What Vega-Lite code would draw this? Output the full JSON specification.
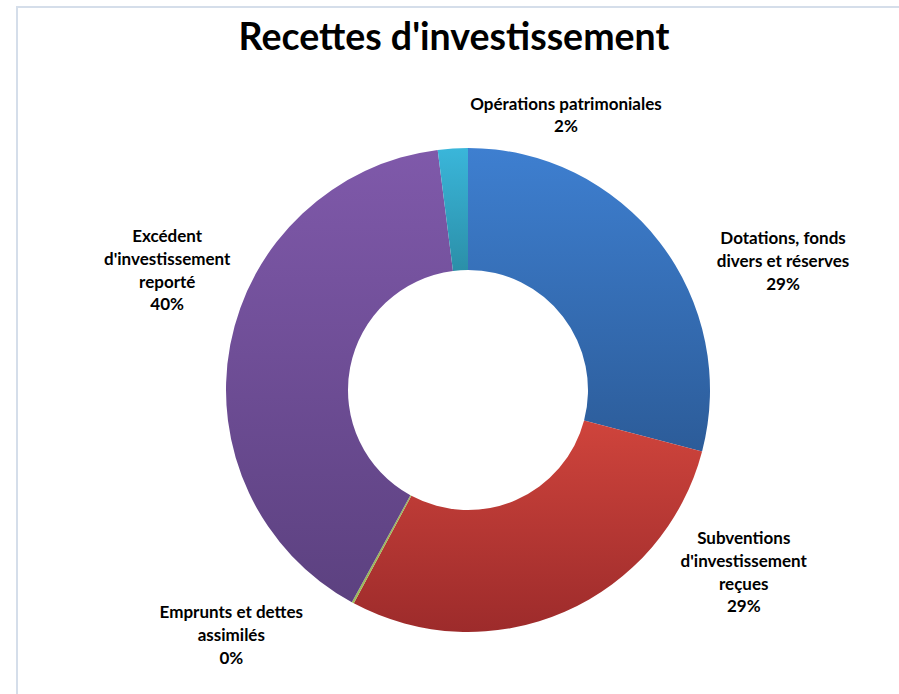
{
  "$schema": "https://vega.github.io/schema/vega-lite/v6.json",
  "width": 902,
  "height": 766,
  "autosize": {"type": "none"},
  "padding": {"left": 17, "top": 7, "right": 0, "bottom": 0},
  "background": "white",
  "config": {"view": {"stroke": null}},
  "title": {
    "text": "Recettes d'investissement",
    "font": "Lato",
    "fontSize": 37.5,
    "fontWeight": "bold",
    "color": "#000000",
    "orient": "none",
    "anchor": "middle",
    "align": "center",
    "baseline": "alphabetic",
    "dx": 437,
    "dy": 43
  },
  "data": {
    "values": [
      {"categorie": "Dotations, fonds divers et réserves", "etiquette": "Dotations, fonds\ndivers et réserves\n29%", "part": 29.1},
      {"categorie": "Subventions d'investissement reçues", "etiquette": "Subventions\nd'investissement\nreçues\n29%", "part": 28.75},
      {"categorie": "Emprunts et dettes assimilés", "etiquette": "Emprunts et dettes\nassimilés\n0%", "part": 0.15},
      {"categorie": "Excédent d'investissement reporté", "etiquette": "Excédent\nd'investissement\nreporté\n40%", "part": 40.05},
      {"categorie": "Opérations patrimoniales", "etiquette": "Opérations patrimoniales\n2%", "part": 2.0}
    ]
  },
  "transform": [{"window": [{"op": "row_number", "as": "rang"}]}],
  "layer": [
    {
      "transform": [{"aggregate": [{"op": "count", "as": "n"}]}],
      "mark": {"type": "rect", "fillOpacity": 0, "stroke": "#d5deea", "strokeWidth": 2},
      "encoding": {}
    },
    {
      "mark": {"type": "arc", "outerRadius": 242, "innerRadius": 120},
      "encoding": {
        "theta": {"field": "part", "type": "quantitative", "stack": true},
        "order": {"field": "rang", "type": "quantitative", "sort": "ascending"},
        "fill": {
          "condition": [
            {"test": "datum.categorie === 'Dotations, fonds divers et réserves'", "value": {"gradient": "linear", "x1": 0, "y1": 0, "x2": 0, "y2": 1, "stops": [{"offset": 0, "color": "#3e7fd0"}, {"offset": 1, "color": "#2c5c99"}]}},
            {"test": "datum.categorie === 'Subventions d\\'investissement reçues'", "value": {"gradient": "linear", "x1": 0, "y1": 0, "x2": 0, "y2": 1, "stops": [{"offset": 0, "color": "#cf443c"}, {"offset": 1, "color": "#9d2b2b"}]}},
            {"test": "datum.categorie === 'Emprunts et dettes assimilés'", "value": "#9bbb59"},
            {"test": "datum.categorie === 'Excédent d\\'investissement reporté'", "value": {"gradient": "linear", "x1": 0, "y1": 0, "x2": 0, "y2": 1, "stops": [{"offset": 0, "color": "#7f59aa"}, {"offset": 1, "color": "#5c4180"}]}}
          ],
          "value": {"gradient": "linear", "x1": 0, "y1": 0, "x2": 0, "y2": 1, "stops": [{"offset": 0, "color": "#3ab6da"}, {"offset": 1, "color": "#2b8fa8"}]}
        }
      }
    },
    {
      "transform": [{"stack": "part", "groupby": [], "sort": [{"field": "rang", "order": "ascending"}], "as": ["debut", "fin"]}],
      "mark": {"type": "text", "font": "Lato", "fontWeight": "bold", "fontSize": 17, "lineHeight": 22.7, "lineBreak": "\n", "align": "center", "baseline": "middle", "color": "#000000"},
      "encoding": {
        "text": {"field": "etiquette", "type": "nominal"},
        "theta": {
          "field": "fin",
          "type": "quantitative",
          "stack": null,
          "scale": {"type": "linear", "domain": [0, 29.1, 57.85, 58.0, 98.05, 100.05], "range": [0.5, 1.125, 2.067, 3.956, 5.182, 6.614], "zero": false, "nice": false}
        },
        "radius": {
          "field": "categorie",
          "type": "nominal",
          "scale": {
            "type": "point",
            "domain": ["Opérations patrimoniales", "Subventions d'investissement reçues", "Emprunts et dettes assimilés", "Excédent d'investissement reporté", "Dotations, fonds divers et réserves"],
            "range": [301.7, 349.2],
            "padding": 0
          }
        }
      }
    }
  ],
  "resolve": {"scale": {"theta": "independent", "radius": "independent"}}
}
